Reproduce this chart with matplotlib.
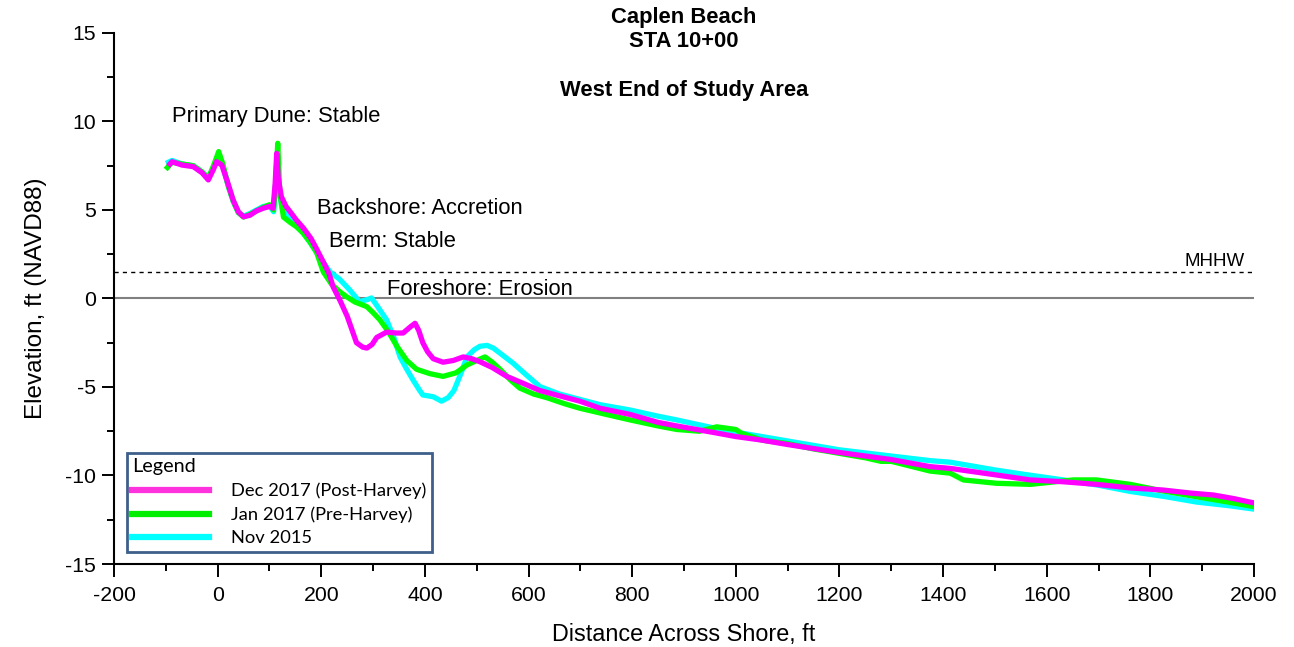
import matplotlib
matplotlib.use("Agg")
import matplotlib.pyplot as plt
from matplotlib.ticker import MultipleLocator

# Dec 2017 (Post-Harvey) survey
dec17_x = [-92, -88, -69, -47, -30, -18, -8, -2, 8, 20, 30, 40, 50, 62, 75, 88, 100, 107,
           111, 114, 117, 123, 132, 140, 152, 165, 180, 191, 205, 215, 223, 236, 250, 262,
           268, 280, 288, 298, 307, 326, 345, 358, 372, 381, 388, 396, 405, 416, 435, 455,
           474, 490, 506, 530, 558, 590, 622, 660, 699, 738, 796, 850, 886, 963, 1000, 1050,
           1100, 1188, 1250, 1300, 1375, 1414, 1503, 1568, 1630, 1696, 1760, 1824, 1880,
           1921, 1960, 2000]
dec17_y = [7.6, 7.73, 7.54, 7.45, 7.1, 6.7, 7.3, 7.73, 7.54, 6.5, 5.56, 4.9, 4.62, 4.7,
           4.95, 5.1, 5.2, 5.1, 6.5, 8.2, 6.8, 5.75, 5.2, 4.9, 4.43, 4.0, 3.4, 2.8, 2.0, 1.4,
           0.65, -0.1, -1.0, -2.0, -2.5, -2.75, -2.8, -2.6, -2.2, -1.9, -1.95, -1.95, -1.6,
           -1.4, -1.8, -2.5, -3.0, -3.4, -3.6, -3.5, -3.3, -3.4, -3.57, -3.9, -4.4, -4.8,
           -5.2, -5.5, -5.8, -6.2, -6.55, -7.0, -7.2, -7.6, -7.8, -8.0, -8.25, -8.65, -8.9,
           -9.1, -9.5, -9.6, -9.97, -10.25, -10.35, -10.5, -10.7, -10.82, -11.0, -11.1,
           -11.3, -11.55]

# Jan 2017 (Pre-Harvey) survey
jan17_x = [-97, -88, -69, -47, -30, -18, -8, 2, 10, 20, 30, 40, 50, 62, 75, 88, 100, 108,
           112, 116, 120, 127, 140, 152, 165, 178, 191, 204, 220, 235, 249, 265, 288, 300,
           313, 330, 346, 365, 384, 410, 435, 460, 481, 500, 516, 530, 545, 565, 583, 610,
           635, 670, 699, 750, 796, 850, 886, 930, 963, 1000, 1010, 1050, 1100, 1150, 1200,
           1250, 1280, 1300, 1375, 1414, 1439, 1503, 1568, 1651, 1696, 1761, 1820, 1889,
           1950, 2000]
jan17_y = [7.4, 7.7, 7.6, 7.5, 7.15, 6.8, 7.5, 8.3, 7.6, 6.4, 5.5, 4.85, 4.6, 4.75, 4.95,
           5.15, 5.3, 5.0, 6.5, 8.77, 6.0, 4.6, 4.3, 4.06, 3.7, 3.2, 2.6, 1.5, 0.8, 0.4, 0.1,
           -0.2, -0.46, -0.8, -1.2, -1.9, -2.7, -3.5, -4.0, -4.25, -4.4, -4.2, -3.76, -3.5,
           -3.3, -3.6, -4.0, -4.6, -5.06, -5.4, -5.6, -5.95, -6.2, -6.55, -6.86, -7.2, -7.4,
           -7.5, -7.25, -7.4, -7.6, -8.0, -8.2, -8.5, -8.75, -9.0, -9.2, -9.2, -9.75, -9.87,
           -10.25, -10.44, -10.5, -10.25, -10.25, -10.5, -10.85, -11.2, -11.5, -11.76]

# Nov 2015 survey
nov15_x = [-95, -88, -69, -47, -30, -18, -8, 0, 10, 20, 30, 40, 50, 62, 75, 88, 100, 108,
           112, 115, 118, 125, 140, 152, 165, 180, 191, 205, 217, 235, 255, 274, 290, 297,
           305, 326, 340, 352, 365, 377, 390, 396, 416, 432, 445, 456, 470, 481, 495, 506,
           520, 532, 550, 570, 595, 622, 660, 699, 738, 796, 850, 886, 963, 1000, 1050, 1100,
           1200, 1300, 1375, 1414, 1503, 1560, 1632, 1700, 1761, 1830, 1889, 1950, 2000]
nov15_y = [7.7, 7.8, 7.6, 7.5, 7.15, 6.8, 7.4, 7.9, 7.5, 6.4, 5.5, 4.85, 4.65, 4.8, 5.0,
           5.2, 5.25, 4.9, 6.5, 8.2, 6.2, 5.0, 4.5, 4.1, 3.7, 3.1, 2.6, 2.0, 1.5, 1.1, 0.48,
           -0.18, -0.05, 0.03, -0.3, -1.2, -2.2, -3.3, -4.0, -4.6, -5.2, -5.45, -5.55, -5.8,
           -5.6, -5.2, -4.2, -3.3, -2.9, -2.7, -2.65, -2.8, -3.2, -3.65, -4.3, -4.98, -5.4,
           -5.7, -6.0, -6.3, -6.65, -6.86, -7.35, -7.55, -7.8, -8.05, -8.55, -8.9, -9.16,
           -9.25, -9.7, -9.95, -10.25, -10.55, -10.9, -11.2, -11.5, -11.7, -11.9]

mhhw = 1.5

zones = ["Primary Dune: Stable", "Backshore: Accretion", "Berm: Stable", "Foreshore: Erosion"]
zone_pos = [(-88, 10.3), (192, 5.1), (215, 3.2), (327, 0.5)]

plt.rcParams["font.family"] = "Liberation Sans"
plt.rcParams["axes.unicode_minus"] = False

fig = plt.figure(figsize=(12.94, 6.47), dpi=100)
ax = fig.add_axes([114 / 1294, 1 - 564 / 647, 1140 / 1294, 531 / 647])

ax.plot([-200, 2000], [0, 0], color="#808080", lw=1.5, zorder=1)
ax.plot([-200, 2000], [mhhw, mhhw], color="black", lw=1, ls=(0, (3, 3)), zorder=1)
ax.text(1983, mhhw + 0.12, "MHHW", ha="right", va="bottom", fontsize=13.5)

ax.plot(nov15_x, nov15_y, color="#00ffff", lw=3.8, label="Nov 2015", zorder=2,
        solid_joinstyle="round")
ax.plot(jan17_x, jan17_y, color="#00ff00", lw=3.8, label="Jan 2017 (Pre-Harvey)", zorder=3,
        solid_joinstyle="round")
ax.plot(dec17_x, dec17_y, color="#ff00ff", lw=3.8, label="Dec 2017 (Post-Harvey)", zorder=4,
        solid_joinstyle="round")

for name, (zx, zy) in zip(zones, zone_pos):
    ax.text(zx, zy, name, fontsize=15.8, va="center", ha="left")

ax.set_xlim(-200, 2000)
ax.set_ylim(-15, 15)
ax.xaxis.set_major_locator(MultipleLocator(200))
ax.xaxis.set_minor_locator(MultipleLocator(100))
ax.yaxis.set_major_locator(MultipleLocator(5))
ax.yaxis.set_minor_locator(MultipleLocator(2.5))
ax.tick_params(which="major", direction="out", length=9, width=1.4, labelsize=15.3)
ax.tick_params(which="minor", direction="out", length=5, width=1.4)
ax.tick_params(axis="x", which="major", pad=7)
ax.tick_params(axis="y", which="major", pad=4)

for s in ["top", "right"]:
    ax.spines[s].set_visible(False)
for s in ["left", "bottom"]:
    ax.spines[s].set_linewidth(1.5)

ax.set_xlabel("Distance Across Shore, ft", fontsize=16.8, labelpad=13)
ax.set_ylabel("Elevation, ft (NAVD88)", fontsize=17.5, labelpad=13)

fig.text(684 / 1294, 1 - 54 / 647, "Caplen Beach\nSTA 10+00\n\nWest End of Study Area",
         ha="center", va="center", fontsize=15.8, fontweight="bold", linespacing=1.22)

handles, labels = ax.get_legend_handles_labels()
order = [2, 1, 0]
leg = ax.legend([handles[i] for i in order], [labels[i] for i in order],
                loc="lower left", bbox_to_anchor=(0.0114, 0.0226), borderaxespad=0,
                title="Legend", alignment="left", fancybox=False, framealpha=1,
                edgecolor="#3f5f8a", prop={"family": "Lato", "size": 13.2},
                handlelength=4.2, handletextpad=1.2, labelspacing=0.4, borderpad=0.3)
leg.get_title().set_family("Lato")
leg.get_title().set_fontsize(14.3)
leg.get_frame().set_linewidth(2)
for line, c in zip(leg.get_lines(), ["#ff33dd", "#00ee00", "#00ffff"]):
    line.set_linewidth(4.5)
    line.set_color(c)
leg.set_zorder(10)

fig.savefig("out.png", dpi=100)
